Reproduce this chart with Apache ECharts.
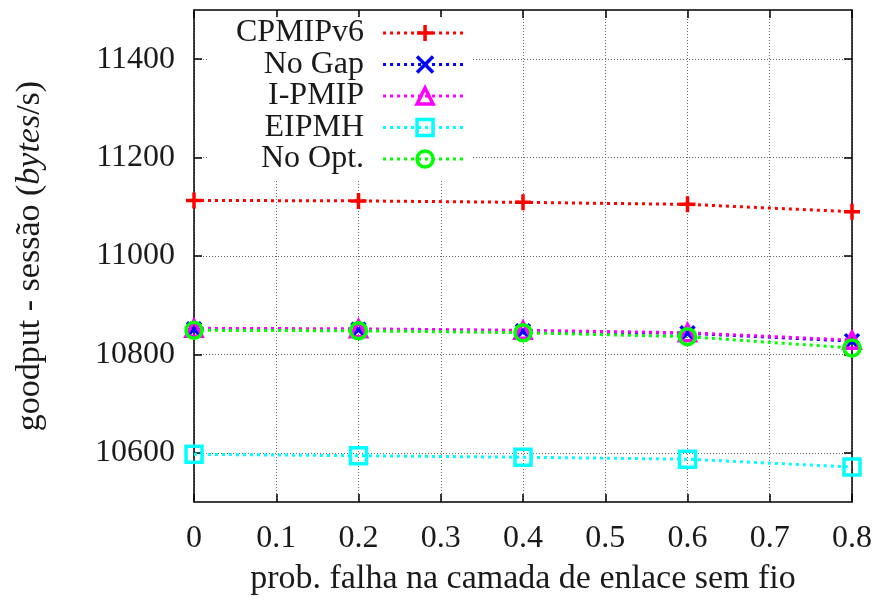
<!DOCTYPE html>
<html>
<head>
<meta charset="utf-8">
<script src="https://cdn.jsdelivr.net/npm/echarts@6/dist/echarts.min.js"></script>
<style>
  html, body { margin: 0; padding: 0; background: #fff; }
  #chart { width: 876px; height: 601px; }
</style>
</head>
<body>
<div id="chart"></div>
<script>
// Link-layer failure probability (x) and session goodput per scheme (bytes/s)
const failureProb = [0, 0.2, 0.4, 0.6, 0.8];
const cpmipv6 = [11113, 11112, 11109, 11105, 11090];
const noGap   = [10851, 10850, 10847, 10843, 10827];
const iPmip   = [10853, 10852, 10849, 10844, 10829];
const eipmh   = [10597, 10594, 10591, 10587, 10571];
const noOpt   = [10849, 10848, 10844, 10836, 10813];

const seriesNames = ['CPMIPv6', 'No Gap', 'I-PMIP', 'EIPMH', 'No Opt.'];
const yTicks = [10600, 10800, 11000, 11200, 11400];

const FONT = '"Liberation Serif", "DejaVu Serif", serif';
const TEXT = '#1a1a1a';
const FS = 32;

const plusPath = 'path://M0,5L10,5M5,0L5,10';
const crossPath = 'path://M0,0L10,10M0,10L10,0';

function pairs(vals) {
  return failureProb.map((x, i) => [x, vals[i]]);
}

function makeSeries(name, vals, color, symbol, size) {
  return {
    name: name,
    type: 'line',
    data: pairs(vals),
    xAxisIndex: 0,
    yAxisIndex: 0,
    symbol: symbol,
    symbolSize: size,
    showAllSymbol: true,
    lineStyle: { color: color, width: 3, type: [3, 4] },
    itemStyle: { color: 'rgba(0,0,0,0)', borderColor: color, borderWidth: 3.5 },
    emphasis: { disabled: true },
    animation: false
  };
}

const chart = echarts.init(document.getElementById('chart'), null, { renderer: 'canvas' });

const xBase = {
  type: 'value', min: 0, max: 0.8, interval: 0.1,
  axisLine: { show: true, onZero: false, lineStyle: { color: '#000', width: 1.5 } }
};
const yBase = {
  type: 'value', min: 10500, max: 11500, interval: 100,
  axisLine: { show: true, onZero: false, lineStyle: { color: '#000', width: 1.5 } }
};

chart.setOption({
  backgroundColor: '#fff',
  animation: false,
  grid: { left: 194, right: 24, top: 10, bottom: 95, containLabel: false },
  legend: {
    orient: 'vertical',
    align: 'right',
    left: 208,
    top: 17,
    padding: [0, 4, 4, 28],
    backgroundColor: '#fff',
    itemWidth: 84,
    itemHeight: 20,
    itemGap: -0.5,
    selectedMode: false,
    itemStyle: { borderWidth: 3.5 },
    lineStyle: { width: 3, type: [3, 4] },
    textStyle: { fontFamily: FONT, fontSize: FS, color: TEXT, lineHeight: 30, padding: [0, 14, 0, 0] },
    data: seriesNames
  },
  xAxis: [
    Object.assign({}, xBase, {
      position: 'bottom',
      name: 'prob. falha na camada de enlace sem fio',
      nameLocation: 'middle',
      nameGap: 60,
      nameTextStyle: { fontFamily: FONT, fontSize: 34, color: TEXT },
      axisTick: { show: true, inside: true, length: 8, lineStyle: { color: '#000', width: 1.5 } },
      axisLabel: {
        fontFamily: FONT, fontSize: FS, color: TEXT, margin: 21,
        formatter: v => (v === 0 ? '0' : v.toFixed(1))
      },
      splitLine: { show: true, lineStyle: { color: '#666', width: 1, type: [1, 2] } }
    }),
    Object.assign({}, xBase, {
      position: 'top',
      axisTick: { show: true, inside: true, length: 8, lineStyle: { color: '#000', width: 1.5 } },
      axisLabel: { show: false },
      splitLine: { show: false }
    })
  ],
  yAxis: [
    Object.assign({}, yBase, {
      position: 'left',
      name: 'goodput - sessão ({it|bytes}/s)',
      nameLocation: 'middle',
      nameGap: 147,
      nameTextStyle: {
        fontFamily: FONT, fontSize: 34, color: TEXT,
        rich: { it: { fontFamily: FONT, fontSize: 34, fontStyle: 'italic', color: TEXT } }
      },
      axisTick: { show: true, inside: true, length: 8, customValues: yTicks, lineStyle: { color: '#000', width: 1.5 } },
      axisLabel: {
        fontFamily: FONT, fontSize: FS, color: TEXT, margin: 19,
        customValues: yTicks,
        formatter: v => String(v)
      },
      splitLine: { show: true, lineStyle: { color: '#666', width: 1, type: [1, 2] } }
    }),
    Object.assign({}, yBase, {
      position: 'right',
      axisTick: { show: true, inside: true, length: 8, customValues: yTicks, lineStyle: { color: '#000', width: 1.5 } },
      axisLabel: { show: false },
      splitLine: { show: false }
    })
  ],
  series: [
    makeSeries(seriesNames[0], cpmipv6, '#ff0000', plusPath, 16),
    makeSeries(seriesNames[1], noGap, '#0000ff', crossPath, 14),
    makeSeries(seriesNames[2], iPmip, '#ff00ff', 'triangle', 16),
    makeSeries(seriesNames[3], eipmh, '#00ffff', 'rect', 16),
    makeSeries(seriesNames[4], noOpt, '#00ff00', 'circle', 16)
  ]
});
</script>
</body>
</html>
